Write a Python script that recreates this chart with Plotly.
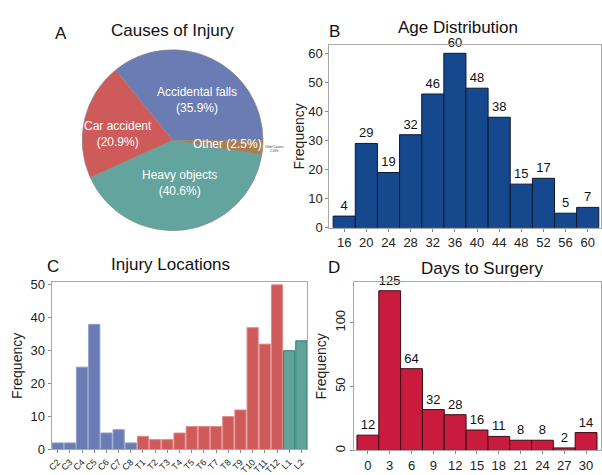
import plotly.graph_objects as go

W, H = 602, 475

# ---- data ----
cause_labels = ["Accidental falls", "Other", "Heavy objects", "Car accident"]
cause_pct = [35.9, 2.5, 40.6, 20.9]
cause_colors = ["#6B7BB3", "#A97E52", "#63A59E", "#CF5A5A"]

age_bins = [16, 20, 24, 28, 32, 36, 40, 44, 48, 52, 56, 60]
age_freq = [4, 29, 19, 32, 46, 60, 48, 38, 15, 17, 5, 7]

loc_labels = ["C2", "C3", "C4", "C5", "C6", "C7", "C8",
              "T1", "T2", "T3", "T4", "T5", "T6", "T7", "T8", "T9", "T10", "T11", "T12",
              "L1", "L2"]
loc_freq = [2, 2, 25, 38, 5, 6, 2,
            4, 3, 3, 5, 7, 7, 7, 10, 12, 37, 32, 50,
            30, 33]

days_bins = [0, 3, 6, 9, 12, 15, 18, 21, 24, 27, 30]
days_freq = [12, 125, 64, 32, 28, 16, 11, 8, 8, 2, 14]

FONT = "Liberation Sans, Arial, sans-serif"


def region_color(lbl):
    if lbl.startswith("C"):
        return "#6B7BB3", "#8E9BCB"
    if lbl.startswith("T"):
        return "#CF5A5A", "#E28C8C"
    return "#5FA39B", "#2F7F76"


fig = go.Figure()

# ---- A: pie ----
fig.add_trace(go.Pie(
    labels=cause_labels, values=cause_pct, sort=False, direction="clockwise",
    rotation=-39, marker=dict(colors=cause_colors, line=dict(color="#8a8a8a", width=0.6)),
    textinfo="none", hoverinfo="label+percent", showlegend=False,
    domain=dict(x=[77 / W, 263 / W], y=[1 - 232 / H, 1 - 46 / H]),
))

# ---- B: age histogram ----
fig.add_trace(go.Bar(
    x=age_bins, y=age_freq, width=4, text=age_freq, textposition="outside",
    cliponaxis=False, constraintext="none",
    textfont=dict(size=13, color="#111"),
    marker=dict(color="#16488E", line=dict(color="#0a1a30", width=1)),
    xaxis="x", yaxis="y", showlegend=False,
))

# ---- C: injury locations ----
cols = [region_color(l) for l in loc_labels]
fig.add_trace(go.Bar(
    x=loc_labels, y=loc_freq,
    marker=dict(color=[c[0] for c in cols], line=dict(color=[c[1] for c in cols], width=1)),
    xaxis="x2", yaxis="y2", showlegend=False,
))

# ---- D: days to surgery ----
fig.add_trace(go.Bar(
    x=days_bins, y=days_freq, width=3, text=days_freq, textposition="outside",
    cliponaxis=False, constraintext="none",
    textfont=dict(size=13, color="#111"),
    marker=dict(color="#C81B3D", line=dict(color="#3a0a12", width=1)),
    xaxis="x3", yaxis="y3", showlegend=False,
))

axcommon = dict(showline=True, linecolor="#A8A8A8", linewidth=1, mirror=True,
                showgrid=False, zeroline=False, ticks="outside", ticklen=3,
                tickcolor="#888", tickfont=dict(size=13, color="#222", family=FONT))

fig.update_layout(
    width=W, height=H, margin=dict(l=0, r=0, t=0, b=0),
    paper_bgcolor="white", plot_bgcolor="white",
    font=dict(family=FONT, color="#222"),
    bargap=0.08,
    xaxis=dict(domain=[328 / W, 1.0], anchor="y", range=[13.3, 62.4],
               tickvals=age_bins, **axcommon),
    yaxis=dict(domain=[1 - 229 / H, 1 - 41 / H], anchor="x", range=[0, 62.9],
               dtick=10, title=dict(text="Frequency", font=dict(size=14), standoff=0),
               **axcommon),
    xaxis2=dict(domain=[48 / W, 306 / W], anchor="y2", tickangle=-45,
                tickmode="array", tickvals=loc_labels, ticktext=loc_labels,
                **{**axcommon, "tickfont": dict(size=9, color="#222", family=FONT)}),
    yaxis2=dict(domain=[18 / H, 1 - 285 / H], anchor="x2", range=[0, 50.8],
                dtick=10, title=dict(text="Frequency", font=dict(size=14), standoff=4),
                **axcommon),
    xaxis3=dict(domain=[353 / W, 1.0], anchor="y3", range=[-1.9, 32.05],
                tickvals=days_bins, **axcommon),
    yaxis3=dict(domain=[17 / H, 1 - 285 / H], anchor="x3", range=[0, 131.7],
                tickvals=[0, 50, 100], tickangle=-90,
                title=dict(text="Frequency", font=dict(size=14), standoff=2),
                **axcommon),
)

ann = []


def txt(x, y, s, size, color="#111", **kw):
    ann.append(dict(x=x / W, y=1 - y / H, xref="paper", yref="paper", text=s,
                    showarrow=False, font=dict(size=size, color=color, family=FONT),
                    xanchor="center", yanchor="middle", **kw))


# titles and panel letters
txt(170, 26, "Causes of Injury", 17)
txt(57, 29, "A", 17)
txt(458, 23, "Age Distribution", 17)
txt(333, 27, "B", 17)
txt(168, 267, "Injury Locations", 17)
txt(49, 269, "C", 17)
txt(482, 271, "Days to Surgery", 17)
txt(333, 270, "D", 17)

# pie labels
txt(195, 98, "Accidental falls<br>(35.9%)", 12, "white")
txt(115, 133, "Car accident<br>(20.9%)", 12, "white")
txt(225, 143, "Other (2.5%)", 12, "white")
txt(177, 183, "Heavy objects<br>(40.6%)", 12, "white")
txt(273, 148, "Other Causes<br>2.50%", 3, "#333")

fig.update_layout(annotations=ann)
fig.write_html("out.html", config={"displayModeBar": False},
               post_script="document.body.style.margin='0';document.body.style.overflow='hidden';")
